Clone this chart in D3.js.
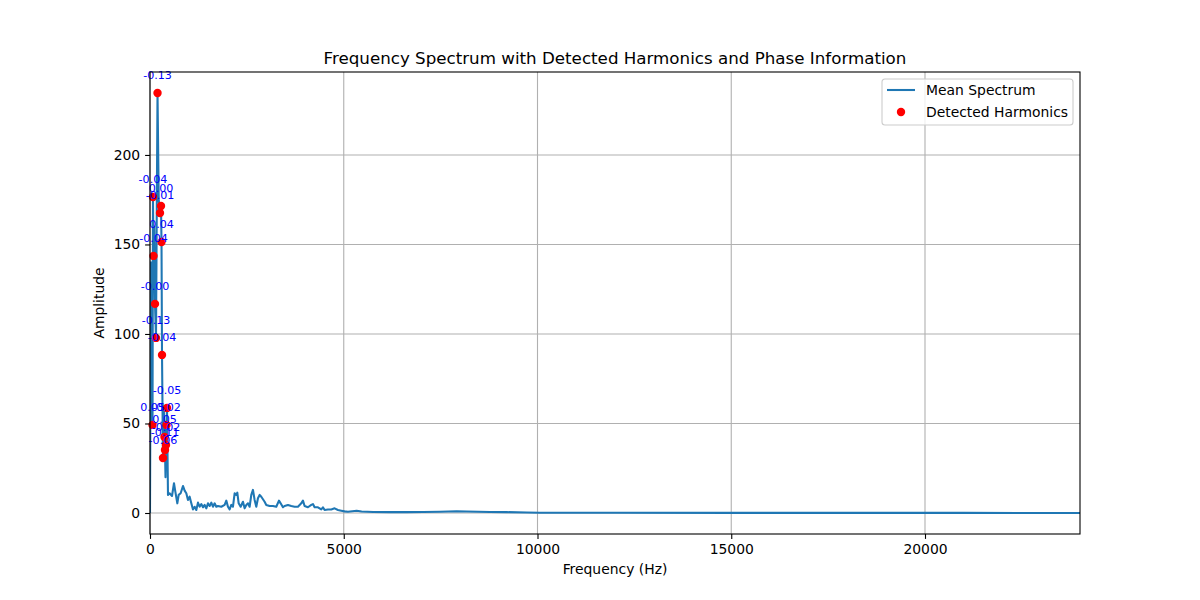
<!DOCTYPE html>
<html>
<head>
<meta charset="utf-8">
<script src="https://cdn.jsdelivr.net/npm/d3@7"></script>
<style>
  body { margin: 0; background: #fff; }
  text { font-family: "DejaVu Sans", sans-serif; }
</style>
</head>
<body>
<div id="chart"></div>
<script>
'use strict';

// mean spectrum (Hz, amplitude)
var specFreqs = [0, 23, 47, 65, 77, 90, 110, 129, 155, 175, 194, 225, 258, 284, 297, 310,
  335, 355, 374, 387, 400, 413, 426, 439, 464,
  508, 568, 619, 654, 705, 740, 791, 851, 894, 937, 980, 1023, 1066, 1109, 1152, 1195,
  1238, 1281, 1324, 1367, 1410, 1453, 1496, 1539, 1582, 1625, 1668, 1711, 1754, 1840,
  1926, 1969, 2012, 2055, 2098, 2141, 2184, 2227, 2253, 2288, 2339, 2399, 2442, 2485,
  2528, 2571, 2614, 2657, 2700, 2743, 2786, 2829, 2872, 2958, 3001, 3087, 3173, 3259,
  3328, 3371, 3431, 3474, 3560, 3646, 3732, 3818, 3904, 3947, 3990, 4076, 4162, 4205,
  4248, 4334, 4420, 4463, 4506, 4592, 4678, 4764, 4850, 4936, 5022, 5108, 5332, 5461,
  5762, 6192, 6622, 7052, 7482, 7912, 8170, 8772, 9202, 9718, 10062, 12000, 15000,
  18000, 21000, 24000];
var specAmps = [0, 140, 60, 49.2, 176.5, 143.6, 160, 116.8, 97.8, 170, 234.6, 175, 167.6, 171.5, 151.4, 88.3,
  30.7, 60, 42.5, 35.2, 20, 38.0, 49.2, 58.7, 10.1,
  11.0, 9.5, 16.6, 11.9, 5.4, 10.1, 11.0, 15.1, 12.5, 11.0, 7.3, 9.1, 5.4, 2.0, 3.5, 1.7,
  5.8, 3.5, 5.0, 3.2, 4.5, 2.6, 5.4, 3.9, 5.8, 3.5, 5.4, 3.5, 3.9, 3.5,
  4.5, 6.9, 3.5, 2.0, 4.5, 3.5, 11.0, 10.1, 11.4, 5.4, 3.5, 6.3, 2.6, 4.5,
  5.4, 3.5, 10.1, 12.9, 7.3, 3.5, 8.2, 10.1, 9.1, 6.3, 4.5, 3.9, 3.9, 3.5,
  6.9, 5.4, 3.2, 3.9, 4.5, 3.9, 3.5, 3.5, 5.4, 6.9, 3.9, 3.2, 4.5, 5.0,
  3.2, 3.2, 2.0, 3.2, 1.7, 2.0, 2.0, 2.6, 1.7, 1.3, 0.9, 0.7, 1.3, 0.8,
  0.6, 0.5, 0.5, 0.6, 0.7, 1.0, 0.8, 0.6, 0.5, 0.3, 0.1, 0.1, 0.08,
  0.05, 0.05, 0.03];

// detected harmonics and their phase
var harmFreqs = [194, 77, 284, 258, 297, 90, 129, 155, 310, 439, 65, 426, 374, 413, 387, 335];
var harmAmps = [234.6, 176.5, 171.5, 167.6, 151.4, 143.6, 116.8, 97.8, 88.3, 58.7, 49.2, 49.2, 42.5, 38.0, 35.2, 30.7];
var harmPhases = [-0.13, -0.04, 0.00, -0.01, 0.04, -0.04, -0.004, -0.13, -0.04, -0.05, 0.05, -0.02, 0.05, -0.02, -0.11, -0.06];

var xTicks = [0, 5000, 10000, 15000, 20000];
var yTicks = [0, 50, 100, 150, 200];

var W = 1200, H = 600;
var mLeft = 150, mRight = 1080, mTop = 72, mBottom = 534;

var svg = d3.select("#chart").append("svg")
  .attr("width", W)
  .attr("height", H);

var x = d3.scaleLinear().domain([0, 24000]).range([mLeft, mRight]);
var yMax = d3.max(harmAmps.concat(specAmps));
var pad = yMax * 0.05;
var y = d3.scaleLinear().domain([-pad, yMax + pad]).range([mBottom, mTop]);

// grid
var grid = svg.append("g");
grid.selectAll(".gx").data(xTicks).enter().append("line")
  .attr("x1", function(d) { return x(d); }).attr("x2", function(d) { return x(d); })
  .attr("y1", mTop).attr("y2", mBottom)
  .attr("stroke", "#b0b0b0").attr("stroke-width", 1.1);
grid.selectAll(".gy").data(yTicks).enter().append("line")
  .attr("x1", mLeft).attr("x2", mRight)
  .attr("y1", function(d) { return y(d); }).attr("y2", function(d) { return y(d); })
  .attr("stroke", "#b0b0b0").attr("stroke-width", 1.1);

// clip for the plot area
svg.append("clipPath").attr("id", "clip")
  .append("rect").attr("x", mLeft).attr("y", mTop)
  .attr("width", mRight - mLeft).attr("height", mBottom - mTop);

var line = d3.line()
  .x(function(d, i) { return x(specFreqs[i]); })
  .y(function(d) { return y(d); });

svg.append("path")
  .datum(specAmps)
  .attr("clip-path", "url(#clip)")
  .attr("fill", "none")
  .attr("stroke", "#1f77b4")
  .attr("stroke-width", 2.08)
  .attr("stroke-linejoin", "round")
  .attr("d", line);

svg.append("g").selectAll("circle")
  .data(harmAmps).enter().append("circle")
  .attr("cx", function(d, i) { return x(harmFreqs[i]); })
  .attr("cy", function(d) { return y(d); })
  .attr("r", 4.2)
  .attr("fill", "red");

svg.append("g").selectAll("text")
  .data(harmAmps).enter().append("text")
  .attr("x", function(d, i) { return x(harmFreqs[i]); })
  .attr("y", function(d) { return y(d) - 13.9; })
  .attr("text-anchor", "middle")
  .attr("font-size", "11.1px")
  .attr("fill", "blue")
  .text(function(d, i) { return harmPhases[i].toFixed(2); });

// frame
svg.append("rect")
  .attr("x", mLeft).attr("y", mTop)
  .attr("width", mRight - mLeft).attr("height", mBottom - mTop)
  .attr("fill", "none").attr("stroke", "#000").attr("stroke-width", 1.1);

// axes
var xAxis = d3.axisBottom(x).tickValues(xTicks).tickSize(4.9).tickPadding(4.9)
  .tickFormat(d3.format("d"));
var gx = svg.append("g").attr("transform", "translate(0," + mBottom + ")").call(xAxis);
var yAxis = d3.axisLeft(y).tickValues(yTicks).tickSize(4.9).tickPadding(4.9)
  .tickFormat(d3.format("d"));
var gy = svg.append("g").attr("transform", "translate(" + mLeft + ",0)").call(yAxis);
[gx, gy].forEach(function(g) {
  g.select(".domain").remove();
  g.selectAll(".tick line").attr("stroke", "#000").attr("stroke-width", 1.1);
  g.selectAll(".tick text").attr("font-size", "13.9px").attr("fill", "#000")
    .attr("font-family", "DejaVu Sans");
});

svg.append("text")
  .attr("x", (mLeft + mRight) / 2).attr("y", 574)
  .attr("text-anchor", "middle").attr("font-size", "13.9px")
  .text("Frequency (Hz)");

svg.append("text")
  .attr("transform", "translate(104," + ((mTop + mBottom) / 2) + ") rotate(-90)")
  .attr("text-anchor", "middle").attr("font-size", "13.9px")
  .text("Amplitude");

svg.append("text")
  .attr("x", (mLeft + mRight) / 2).attr("y", 64)
  .attr("text-anchor", "middle").attr("font-size", "16.7px")
  .text("Frequency Spectrum with Detected Harmonics and Phase Information");

// legend
var lg = svg.append("g").attr("transform", "translate(882,79)");
lg.append("rect")
  .attr("width", 191).attr("height", 46).attr("rx", 3)
  .attr("fill", "#fff").attr("fill-opacity", 0.8)
  .attr("stroke", "#cccccc").attr("stroke-width", 1.1);
lg.append("line").attr("x1", 5).attr("x2", 33).attr("y1", 11).attr("y2", 11)
  .attr("stroke", "#1f77b4").attr("stroke-width", 2.08);
lg.append("circle").attr("cx", 19).attr("cy", 33).attr("r", 4.2).attr("fill", "red");
lg.append("text").attr("x", 44).attr("y", 16).attr("font-size", "13.9px").text("Mean Spectrum");
lg.append("text").attr("x", 44).attr("y", 38).attr("font-size", "13.9px").text("Detected Harmonics");
</script>
</body>
</html>
